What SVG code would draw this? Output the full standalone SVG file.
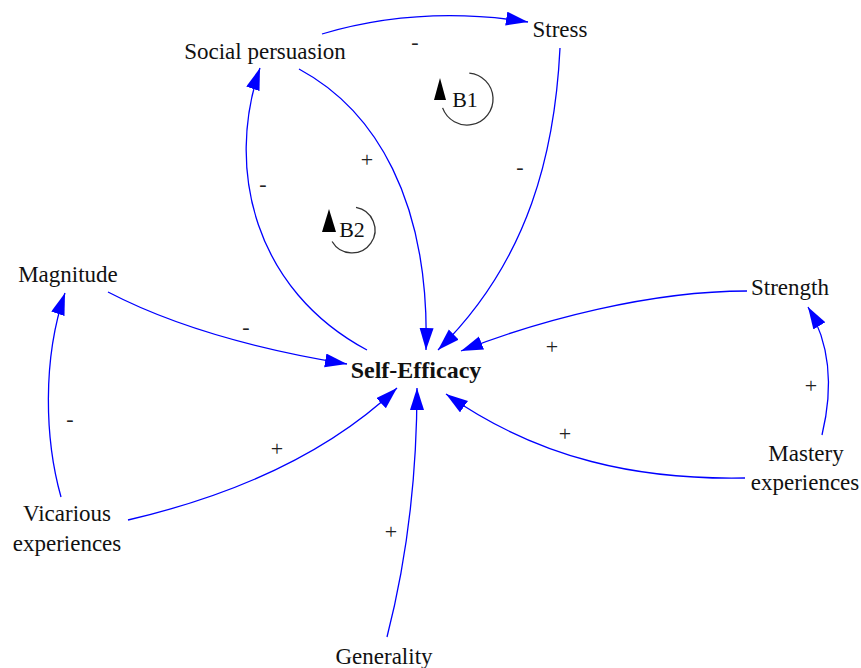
<svg xmlns="http://www.w3.org/2000/svg" width="861" height="668" viewBox="0 0 861 668">
<style>
.n{font-family:"Liberation Serif","Times New Roman",serif;font-size:23px;fill:#111;text-anchor:middle}
.b{font-weight:bold;font-size:24px}
.p{font-family:"Liberation Serif","Times New Roman",serif;font-size:22px;fill:#222;text-anchor:middle}
.c{fill:none;stroke:#0000ff;stroke-width:1.3}
.loop{fill:none;stroke:#333;stroke-width:1.3}
</style>
<defs>
<marker id="a" markerUnits="userSpaceOnUse" markerWidth="24" markerHeight="16" refX="22" refY="7" orient="auto">
<path d="M0,0 L22,7 L0,14 z" fill="#0000ff"/>
</marker>
</defs>
<rect width="861" height="668" fill="#ffffff"/>
<g id="connectors">
<path class="c" marker-end="url(#a)" d="M322,34 Q420,5 528,22"/>
<path class="c" marker-end="url(#a)" d="M560,48 C555,150 530,260 438,350"/>
<path class="c" marker-end="url(#a)" d="M299,69 C375,110 430,200 426,350"/>
<path class="c" marker-end="url(#a)" d="M367,350 C255,290 225,170 260,68"/>
<path class="c" marker-end="url(#a)" d="M108,292 Q200,340 347,364"/>
<path class="c" marker-end="url(#a)" d="M61,497 C45,440 42,360 65,293"/>
<path class="c" marker-end="url(#a)" d="M128,520 Q300,480 397,388"/>
<path class="c" marker-end="url(#a)" d="M387,637 Q417,520 417,388"/>
<path class="c" marker-end="url(#a)" d="M745,478 C640,480 540,460 446,394"/>
<path class="c" marker-end="url(#a)" d="M747,291 C650,291 540,320 461,351"/>
<path class="c" marker-end="url(#a)" d="M822,435 Q840,360 808,307"/>
<text class="p" x="415" y="49">-</text>
<text class="p" x="520" y="174">-</text>
<text class="p" x="367" y="167">+</text>
<text class="p" x="263" y="191">-</text>
<text class="p" x="246" y="334">-</text>
<text class="p" x="70" y="426">-</text>
<text class="p" x="277" y="456">+</text>
<text class="p" x="391" y="539">+</text>
<text class="p" x="552" y="354">+</text>
<text class="p" x="565" y="441">+</text>
<text class="p" x="811" y="393">+</text>
</g>
<g id="loop-B1">
<path class="loop" d="M469.3,73.1 A26,26 0 1 1 442.6,107.9"/>
<path d="M440,78 L446,100 L434,100 z" fill="#000"/>
<text class="n" x="465" y="107" style="font-size:22px">B1</text>
</g>
<g id="loop-B2">
<path class="loop" d="M356,207.3 A23,23 0 1 1 332.1,241.5"/>
<path d="M329,209 L336,232 L322,232 z" fill="#000"/>
<text class="n" x="352" y="237" style="font-size:22px">B2</text>
</g>
<g id="node-social-persuasion"><text class="n" x="265" y="59">Social persuasion</text></g>
<g id="node-stress"><text class="n" x="560" y="37">Stress</text></g>
<g id="node-magnitude"><text class="n" x="68" y="282">Magnitude</text></g>
<g id="node-self-efficacy"><text class="n b" x="416" y="378">Self-Efficacy</text></g>
<g id="node-strength"><text class="n" x="790" y="295">Strength</text></g>
<g id="node-mastery"><text class="n" x="806" y="461">Mastery</text><text class="n" x="805" y="490">experiences</text></g>
<g id="node-vicarious"><text class="n" x="67" y="521">Vicarious</text><text class="n" x="67" y="551">experiences</text></g>
<g id="node-generality"><text class="n" x="384" y="664">Generality</text></g>
</svg>
